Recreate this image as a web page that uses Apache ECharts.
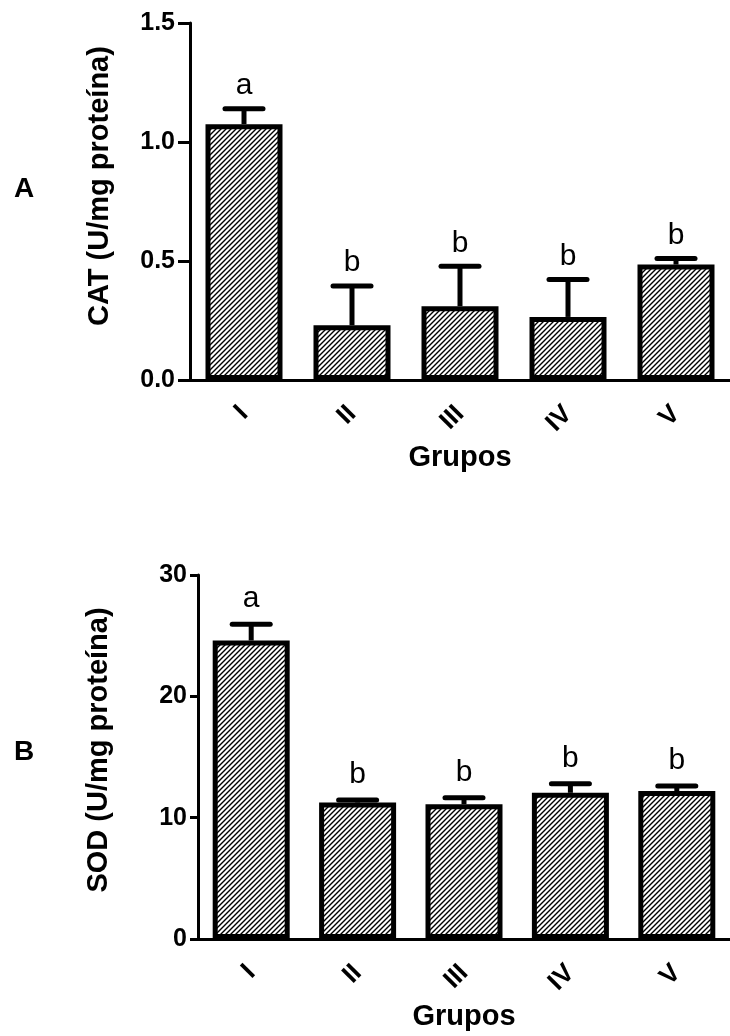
<!DOCTYPE html>
<html><head><meta charset="utf-8">
<script src="https://cdn.jsdelivr.net/npm/echarts@6/dist/echarts.min.js"></script>
<style>html,body{margin:0;padding:0;background:#fff}#c{width:730px;height:1036px}</style>
</head><body><div id="c"></div>
<script>
// ---- data ----
const groups = ['I', 'II', 'III', 'IV', 'V'];
const catMean = [1.075, 0.23, 0.31, 0.265, 0.485];
const catSem = [0.065, 0.165, 0.168, 0.157, 0.025];
const catLetters = ['a', 'b', 'b', 'b', 'b'];
const sodMean = [24.6, 11.25, 11.1, 12.05, 12.2];
const sodSem = [1.35, 0.2, 0.55, 0.75, 0.4];
const sodLetters = ['a', 'b', 'b', 'b', 'b'];
const catAxis = {min: 0, max: 1.5, interval: 0.5};
const sodAxis = {min: 0, max: 30, interval: 10};

// ---- style ----
const FF = '"Liberation Sans", Arial, Helvetica, sans-serif';
function hatch() {
  const s = 5, c = document.createElement('canvas');
  c.width = s; c.height = s;
  const g = c.getContext('2d');
  g.fillStyle = '#fff'; g.fillRect(0, 0, s, s);
  g.strokeStyle = '#000'; g.lineWidth = 1.4;
  g.beginPath();
  g.moveTo(-1, s + 1); g.lineTo(s + 1, -1);
  g.moveTo(-1, 1); g.lineTo(1, -1);
  g.moveTo(s - 1, s + 1); g.lineTo(s + 1, s - 1);
  g.stroke();
  return c;
}
const pattern = {image: hatch(), repeat: 'repeat'};

function xAx(gi) {
  return {
    gridIndex: gi, type: 'category', data: groups,
    axisLine: {lineStyle: {color: '#000', width: 3}},
    axisTick: {alignWithLabel: true, length: 11, lineStyle: {color: '#000', width: 3}},
    axisLabel: {rotate: 45, margin: 30, fontSize: 26, fontWeight: 'bold', color: '#000', fontFamily: FF},
    name: 'Grupos', nameLocation: 'middle', nameGap: 63, nameMoveOverlap: false,
    nameTextStyle: {fontSize: 29, fontWeight: 'bold', color: '#000', fontFamily: FF}
  };
}
function yAx(gi, ax, name, gap, pad, tickLen, fmt) {
  return {
    gridIndex: gi, type: 'value', min: ax.min, max: ax.max, interval: ax.interval,
    axisLine: {show: true, lineStyle: {color: '#000', width: 3}},
    axisTick: {show: true, length: tickLen, lineStyle: {color: '#000', width: 3}},
    splitLine: {show: false},
    axisLabel: {formatter: fmt, margin: tickLen + 3, fontSize: 25, fontWeight: 'bold', color: '#000', fontFamily: FF},
    name: name, nameLocation: 'middle', nameGap: gap, nameMoveOverlap: false,
    nameTextStyle: {fontSize: 29, fontWeight: 'bold', color: '#000', fontFamily: FF, padding: [0, 0, 0, pad]}
  };
}
function barS(i, vals) {
  return {
    type: 'bar', xAxisIndex: i, yAxisIndex: i, data: vals, barWidth: 77,
    itemStyle: {color: pattern, borderColor: '#000', borderWidth: 5},
    emphasis: {disabled: true}, animation: false
  };
}
function errS(i, mean, sem, letters, lift) {
  return {
    type: 'custom', xAxisIndex: i, yAxisIndex: i, z: 5, animation: false,
    data: mean.map((m, k) => [k, m, m + sem[k]]),
    renderItem(params, api) {
      const p0 = api.coord([api.value(0), api.value(1)]);
      const p1 = api.coord([api.value(0), api.value(2)]);
      const hw = 19;
      return {type: 'group', children: [
        {type: 'line', shape: {x1: p0[0], y1: p0[1], x2: p1[0], y2: p1[1]}, style: {stroke: '#000', lineWidth: 5}},
        {type: 'line', shape: {x1: p1[0] - hw, y1: p1[1], x2: p1[0] + hw, y2: p1[1]}, style: {stroke: '#000', lineWidth: 5, lineCap: 'round'}},
        {type: 'text', x: p1[0], y: p1[1] - lift, style: {text: letters[params.dataIndex], font: '30px ' + FF, fill: '#000', align: 'center', verticalAlign: 'bottom'}}
      ]};
    }
  };
}

const chart = echarts.init(document.getElementById('c'), null, {renderer: 'canvas'});
chart.setOption({
  backgroundColor: '#fff',
  animation: false,
  grid: [
    {left: 190, width: 540, top: 23, height: 357},
    {left: 198, width: 540, top: 575, height: 364}
  ],
  xAxis: [xAx(0), xAx(1)],
  yAxis: [
    yAx(0, catAxis, 'CAT (U/mg proteína)', 76, 31, 12, v => v.toFixed(1)),
    yAx(1, sodAxis, 'SOD (U/mg proteína)', 85, 14, 8, v => String(v))
  ],
  series: [
    barS(0, catMean), errS(0, catMean, catSem, catLetters, 8),
    barS(1, sodMean), errS(1, sodMean, sodSem, sodLetters, 10)
  ],
  graphic: [
    {type: 'text', left: 14, top: 175, style: {text: 'A', font: 'bold 28px ' + FF, fill: '#000'}},
    {type: 'text', left: 14, top: 738, style: {text: 'B', font: 'bold 28px ' + FF, fill: '#000'}}
  ]
});
</script>
</body></html>
